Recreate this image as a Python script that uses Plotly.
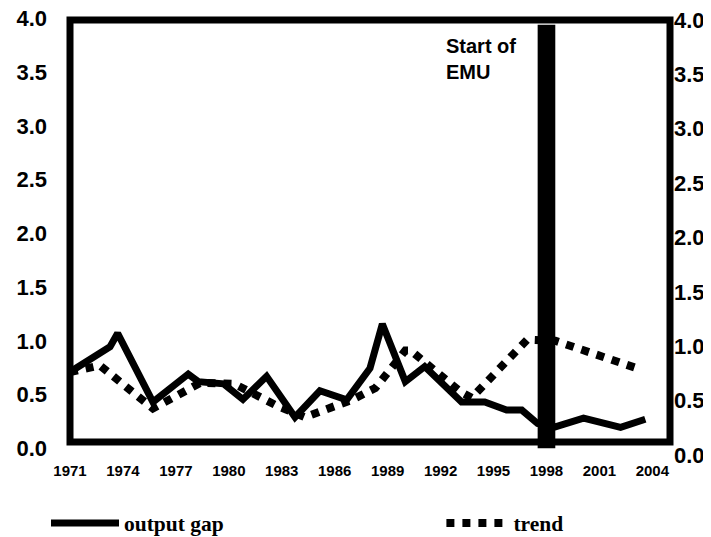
import plotly.graph_objects as go

# ---- data ----
gap_year = [1971.0, 1973.27, 1973.7, 1975.7, 1977.7, 1978.27, 1979.7, 1980.8,
            1982.14, 1983.75, 1985.16, 1986.68, 1988.0, 1988.7, 1990.0, 1991.1,
            1993.19, 1994.5, 1995.74, 1996.6, 1997.5, 1998.5, 2000.1, 2002.2, 2003.6]
gap_value = [0.71, 0.945, 1.07, 0.43, 0.69, 0.62, 0.60, 0.455,
             0.67, 0.29, 0.535, 0.45, 0.745, 1.156, 0.62, 0.76,
             0.43, 0.43, 0.356, 0.356, 0.23, 0.20, 0.28, 0.195, 0.27]

trend_year = [1971.0, 1972.7, 1975.7, 1977.6, 1978.4, 1980.3, 1982.8, 1984.3,
              1986.96, 1988.3, 1988.85, 1990.0, 1990.3, 1991.0, 1993.1, 1993.76,
              1996.9, 1998.5, 2000.1, 2003.3]
trend_value = [0.71, 0.77, 0.37, 0.54, 0.61, 0.60, 0.39, 0.29,
               0.45, 0.56, 0.67, 0.91, 0.91, 0.81, 0.53, 0.47,
               1.01, 1.00, 0.914, 0.735]

x_ticks = [1971, 1974, 1977, 1980, 1983, 1986, 1989, 1992, 1995, 1998, 2001, 2004]
x_tick_labels = [str(v) for v in x_ticks]
y_ticks = [0.0, 0.5, 1.0, 1.5, 2.0, 2.5, 3.0, 3.5, 4.0]
y_tick_labels = ["%.1f" % v for v in y_ticks]

emu_year = 1998
emu_top = 3.94
emu_label = "Start of<br>EMU"

series_names = ["output gap", "trend"]

fig = go.Figure()
fig.add_trace(go.Scatter(x=gap_year, y=gap_value, mode="lines", name=series_names[0],
                         legend="legend",
                         line=dict(color="black", width=7)))
fig.add_trace(go.Scatter(x=trend_year, y=trend_value, mode="lines", name=series_names[1],
                         legend="legend2",
                         line=dict(color="black", width=8, dash="dot")))
# dummy trace to activate the right-hand axis
fig.add_trace(go.Scatter(x=[], y=[], yaxis="y2", showlegend=False, hoverinfo="skip"))

# EMU bar
fig.add_shape(type="rect", xref="x", yref="y", x0=emu_year - 0.5, x1=emu_year + 0.5,
              y0=0, y1=emu_top, fillcolor="black", line=dict(width=0), layer="above")
# frame
fig.add_shape(type="rect", xref="paper", yref="paper", x0=0.0, x1=1.0, y0=0.032, y1=0.9954,
              line=dict(color="black", width=7), fillcolor="rgba(0,0,0,0)", layer="above")

sans_bold = dict(family="Liberation Sans, Arial", color="black", weight="bold")
serif_bold = dict(family="Liberation Serif, Times New Roman", size=21.5, color="black", weight="bold")

fig.add_annotation(x=1992.2, y=3.62, xref="x", yref="y", text=emu_label, showarrow=False,
                   xanchor="left", yanchor="middle", align="left",
                   font=dict(size=20, **sans_bold))

# the page adds an 8px body margin, so the figure is 8px smaller than the window
fig.update_layout(
    width=703, height=529,
    margin=dict(l=62, r=41, t=10, b=81, autoexpand=False),
    paper_bgcolor="white", plot_bgcolor="white",
    xaxis=dict(range=[1971, 2005], tickvals=x_ticks, ticktext=x_tick_labels,
               showgrid=False, zeroline=False, showline=False, ticks="",
               ticklabelstandoff=4, ticklabeloverflow="allow",
               tickfont=dict(size=15, **sans_bold)),
    yaxis=dict(range=[-0.0716, 4.0028], tickvals=y_ticks, ticktext=y_tick_labels,
               showgrid=False, zeroline=False, showline=False, ticks="",
               ticklabelstandoff=22, ticklabeloverflow="allow",
               tickfont=dict(size=22, **sans_bold)),
    yaxis2=dict(range=[-0.0092, 4.018], tickvals=y_ticks, ticktext=y_tick_labels,
                overlaying="y", side="right", showgrid=False, zeroline=False,
                showline=False, ticks="", ticklabelstandoff=3, ticklabeloverflow="allow",
                tickfont=dict(size=22, **sans_bold)),
    showlegend=True,
    legend=dict(orientation="h", x=-0.04, y=-0.153, xanchor="left", yanchor="middle",
                itemwidth=68, font=serif_bold, bgcolor="rgba(0,0,0,0)"),
    legend2=dict(orientation="h", x=0.619, y=-0.153, xanchor="left", yanchor="middle",
                 itemwidth=62, font=serif_bold, bgcolor="rgba(0,0,0,0)"),
)

fig.write_html("out.html")
